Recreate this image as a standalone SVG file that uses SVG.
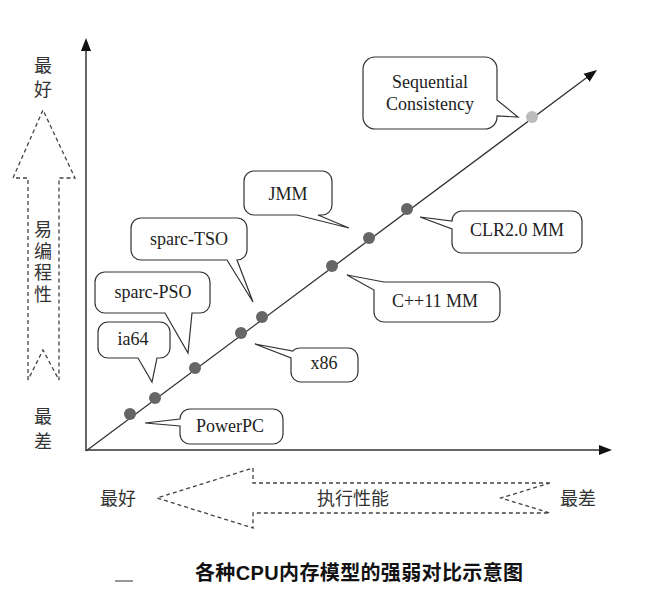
<svg xmlns="http://www.w3.org/2000/svg" width="670" height="592" viewBox="0 0 670 592">
<defs>
<marker id="ah" markerUnits="userSpaceOnUse" markerWidth="14" markerHeight="12" refX="7" refY="6" orient="auto" viewBox="0 0 14 12">
<path d="M0,1 L13,6 L0,11 z" fill="#111"/>
</marker>
<style>
.bg{fill:#fff}
.axis{stroke:#666;stroke-width:2;fill:none}
.diag{stroke:#333;stroke-width:1.3;fill:none}
.bubble{fill:#fff;stroke:#333;stroke-width:1.2;stroke-linejoin:miter}
.lbl{font-family:"Liberation Serif","Times New Roman",serif;font-size:18px;fill:#222;text-anchor:middle}
.cjk{font-family:"Liberation Serif","Noto Sans CJK SC",serif;font-size:18px;fill:#333;text-anchor:middle}
.dash{fill:none;stroke:#444;stroke-width:1.3;stroke-dasharray:4 3}
.dot{fill:#666}
.dotl{fill:#bbb}
.cap{font-family:"Liberation Sans","Noto Sans CJK SC",sans-serif;font-size:20px;font-weight:bold;fill:#111}
</style>
</defs>
<rect class="bg" x="0" y="0" width="670" height="592"/>

<g id="connectors">
<line class="axis" x1="86" y1="451" x2="86" y2="44" marker-end="url(#ah)"/>
<line class="axis" x1="85" y1="450" x2="606" y2="450" marker-end="url(#ah)"/>
<line class="diag" x1="86" y1="451" x2="592.2" y2="73.6" marker-end="url(#ah)"/>
</g>

<g id="easy-arrow">
<path class="dash" d="M28,380 V178 H13 L43,110 L75,178 H59 V380 L43,350 Z"/>
<text class="cjk" x="43" y="72">最</text>
<text class="cjk" x="43" y="96">好</text>
<text class="cjk" x="43" y="236">易</text>
<text class="cjk" x="43" y="258">编</text>
<text class="cjk" x="43" y="279">程</text>
<text class="cjk" x="43" y="301">性</text>
<text class="cjk" x="43" y="423">最</text>
<text class="cjk" x="43" y="448">差</text>
</g>

<g id="perf-arrow">
<path class="dash" d="M550,483 H253 V468 L157,498 L253,528 V513 H550 L501,498 Z"/>
<text class="cjk" x="118" y="505">最好</text>
<text class="cjk" x="353" y="505">执行性能</text>
<text class="cjk" x="578" y="505">最差</text>
</g>

<g id="dots">
<circle class="dot" cx="130" cy="414" r="6"/>
<circle class="dot" cx="155" cy="398" r="6"/>
<circle class="dot" cx="195" cy="368" r="6"/>
<circle class="dot" cx="241" cy="333" r="6"/>
<circle class="dot" cx="262" cy="317" r="6"/>
<circle class="dot" cx="332" cy="266" r="6"/>
<circle class="dot" cx="369" cy="238" r="6"/>
<circle class="dot" cx="407" cy="209" r="6"/>
<circle class="dotl" cx="532" cy="117" r="6"/>
</g>

<g id="sc">
<path class="bubble" d="M375,57 H485 A12,12 0 0 1 497,69 V100 L518,117 L497,116 V117 A12,12 0 0 1 485,129 H375 A12,12 0 0 1 363,117 V69 A12,12 0 0 1 375,57 Z"/>
<text class="lbl" x="430" y="88">Sequential</text>
<text class="lbl" x="430" y="110">Consistency</text>
</g>

<g id="jmm">
<path class="bubble" d="M254,171 H322 A10,10 0 0 1 332,181 V205 A10,10 0 0 1 322,215 H318 L349,228 L297,215 H254 A10,10 0 0 1 244,205 V181 A10,10 0 0 1 254,171 Z"/>
<text class="lbl" x="288" y="200">JMM</text>
</g>

<g id="clr">
<path class="bubble" d="M462,211 H572 A10,10 0 0 1 582,221 V243 A10,10 0 0 1 572,253 H462 A10,10 0 0 1 452,243 V229 L420,217 L452,221 A10,10 0 0 1 462,211 Z"/>
<text class="lbl" x="517" y="236">CLR2.0 MM</text>
</g>

<g id="cpp11">
<path class="bubble" d="M384,282 H490 A10,10 0 0 1 500,292 V312 A10,10 0 0 1 490,322 H384 A10,10 0 0 1 374,312 V290 L347,275 Z"/>
<text class="lbl" x="435" y="307">C++11 MM</text>
</g>

<g id="sparc-tso">
<path class="bubble" d="M141,218 H237 A10,10 0 0 1 247,228 V250 A10,10 0 0 1 237,260 L253,302 L227,260 H141 A10,10 0 0 1 131,250 V228 A10,10 0 0 1 141,218 Z"/>
<text class="lbl" x="189" y="245">sparc-TSO</text>
</g>

<g id="sparc-pso">
<path class="bubble" d="M105,272 H200 A10,10 0 0 1 210,282 V303 A10,10 0 0 1 200,313 H192 L188,353 L165,313 H105 A10,10 0 0 1 95,303 V282 A10,10 0 0 1 105,272 Z"/>
<text class="lbl" x="153" y="298">sparc-PSO</text>
</g>

<g id="ia64">
<path class="bubble" d="M108,322 H160 A10,10 0 0 1 170,332 V348 A10,10 0 0 1 160,358 H157 L152,382 L138,358 H108 A10,10 0 0 1 98,348 V332 A10,10 0 0 1 108,322 Z"/>
<text class="lbl" x="133" y="345">ia64</text>
</g>

<g id="x86">
<path class="bubble" d="M301,348 H348 A10,10 0 0 1 358,358 V372 A10,10 0 0 1 348,382 H301 A10,10 0 0 1 291,372 V358 L255,344 L293,351 Q295,348 301,348 Z"/>
<text class="lbl" x="324" y="369">x86</text>
</g>

<g id="powerpc">
<path class="bubble" d="M190,409 H273 A10,10 0 0 1 283,419 V434 A10,10 0 0 1 273,444 H190 A10,10 0 0 1 180,434 V426 L145,423 L180,419 A10,10 0 0 1 190,409 Z"/>
<text class="lbl" x="230" y="432">PowerPC</text>
</g>

<g id="caption">
<line x1="115" y1="581" x2="133" y2="581" stroke="#777" stroke-width="1.5"/>
<text class="cap" x="195" y="580" textLength="328" lengthAdjust="spacing">各种CPU内存模型的强弱对比示意图</text>
</g>
</svg>
